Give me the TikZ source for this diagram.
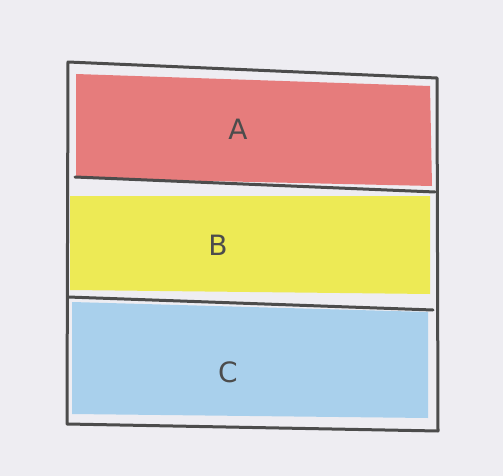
\documentclass[tikz,border=0pt]{standalone}
\usepackage{fontspec}
\setsansfont{DejaVu Sans}
\begin{document}
\begin{tikzpicture}[x=1pt,y=-1pt,
  pencil/.style={draw=black!70, line width=3pt, line cap=round, line join=round},
  lbl/.style={font=\sffamily\fontsize{28}{30}\selectfont, text=black!70}]
\definecolor{paper}{HTML}{EEEDF2}
\definecolor{redfill}{HTML}{E67C7C}
\definecolor{yelfill}{HTML}{EDEA55}
\definecolor{bluefill}{HTML}{A9D0EC}
\fill[paper] (0,0) rectangle (503,476);
\useasboundingbox (0,0) rectangle (503,476);
% fills
\fill[redfill] (76,74) -- (430,86) -- (432,186) -- (76,178) -- cycle;
\fill[yelfill] (70,196) -- (430,196) -- (430,294) -- (70,290) -- cycle;
\fill[bluefill] (72,302) -- (428,312) -- (428,418) -- (72,414) -- cycle;
% corners
\coordinate (tl) at (68,62);
\coordinate (tr) at (437,78);
\coordinate (br) at (438,431);
\coordinate (bl) at (67,424);
\coordinate (d1l) at (75,177);
\coordinate (d1r) at (435,192);
\coordinate (d2l) at (68,297);
\coordinate (d2r) at (433,310);
% outline
\draw[pencil] (tl) -- (tr) -- (br) -- (bl) -- cycle;
\draw[pencil] (d1l) -- (d1r);
\draw[pencil] (d2l) -- (d2r);
% labels
\node[lbl] (A) at (238,129) {A};
\node[lbl] (B) at (218,245) {B};
\node[lbl] (C) at (228,372) {C};
\end{tikzpicture}
\end{document}
